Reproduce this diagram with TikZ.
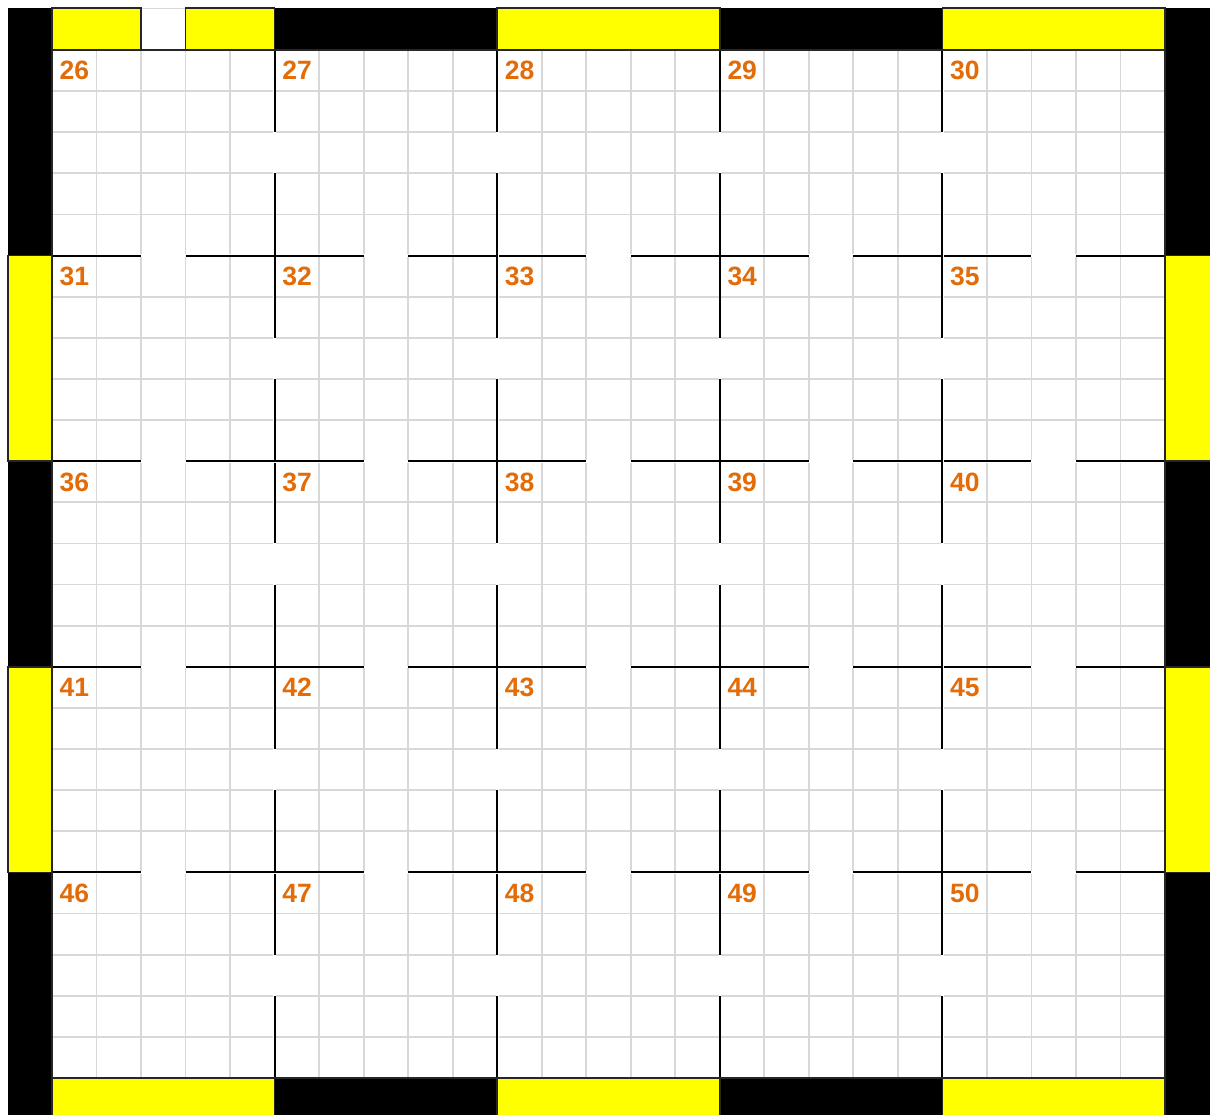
\documentclass[tikz,border=0pt]{standalone}
\usepackage{fontspec}
\setmainfont{Liberation Sans}
\definecolor{lblc}{HTML}{E36C09}
\definecolor{minorc}{HTML}{D8D8D8}
\definecolor{ylwc}{HTML}{FFFF00}
\definecolor{edgec}{HTML}{262626}
\tikzset{
  minorline/.style={draw=minorc, line width=1.8pt},
  majorline/.style={draw=black, line width=2pt},
  gapline/.style={draw=white, line width=2.6pt},
  yelbox/.style={fill=ylwc, draw=edgec, line width=1.5pt},
  lbl/.style={text=lblc, font=\fontsize{26.5}{30}\selectfont\bfseries, inner sep=0pt, anchor=base west}
}
\begin{document}
\begin{tikzpicture}[x=1pt,y=-1pt]
\useasboundingbox (0,0) rectangle (1210,1115);
\clip (0,0) rectangle (1210,1115);
\fill[white] (0,0) rectangle (1210,1115);
% black frame
\fill[black] (8,8) rectangle (1220,1125);
\fill[white] (52,50) rectangle (1165,1078);
% minor grid
\foreach \i in {1,...,24} \draw[minorline] ({52+\i*44.52},50) -- ({52+\i*44.52},1078);
\foreach \j in {1,...,24} \draw[minorline] (52,{50+\j*41.12}) -- (1165,{50+\j*41.12});
% opening in the top border
\fill[white] (141.04,8) rectangle (185.56,50);
\draw[minorline] (141.04,8.5) -- (185.56,8.5);
% yellow blocks
\foreach \a/\b/\c/\d in {52/8/141.04/50, 185.56/8/274.6/50, 497.2/8/719.8/50, 942.4/8/1165/50,
  52/1078/274.6/1125, 497.2/1078/719.8/1125, 942.4/1078/1165/1125,
  8/255.6/52/461.2, 8/666.8/52/872.4,
  1165/255.6/1220/461.2, 1165/666.8/1220/872.4}
  \draw[yelbox] (\a,\b) rectangle (\c,\d);
% major lines with openings
\foreach \k in {1,...,4} {
  \pgfmathsetmacro\xx{52+\k*222.6}
  \pgfmathsetmacro\yy{50+\k*205.6}
  \draw[gapline] (\xx,50) -- (\xx,1078);
  \draw[gapline] (52,\yy) -- (1165,\yy);
  \foreach \r in {0,...,4} {
    \pgfmathsetmacro\ya{50+\r*205.6}
    \draw[majorline] (\xx,\ya) -- (\xx,{\ya+82.24});
    \draw[majorline] (\xx,{\ya+123.36}) -- (\xx,{\ya+205.6});
  }
  \foreach \c in {0,...,4} {
    \pgfmathsetmacro\xa{52+\c*222.6}
    \draw[majorline] (\xa,\yy) -- ({\xa+89.04},\yy);
    \draw[majorline] ({\xa+133.56},\yy) -- ({\xa+222.6},\yy);
  }
}
\draw[edgec, line width=1.2pt] (52,50) rectangle (1165,1078);
% cell numbers
\foreach \r in {0,...,4} {
  \foreach \c in {0,...,4} {
    \pgfmathtruncatemacro\n{26+5*\r+\c}
    \node[lbl] (l\n) at ({52+\c*222.6+7.5},{50+\r*205.6+30}) {\n};
  }
}
\end{tikzpicture}
\end{document}
